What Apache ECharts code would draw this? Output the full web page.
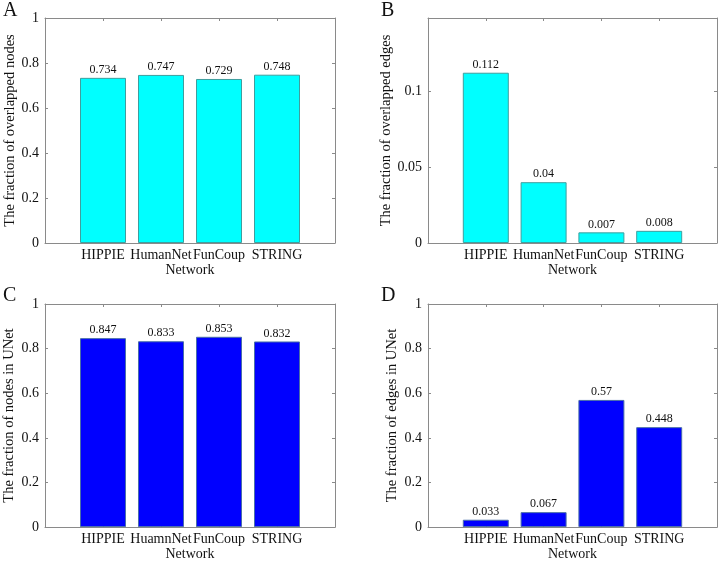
<!DOCTYPE html>
<html>
<head>
<meta charset="utf-8">
<script src="https://cdn.jsdelivr.net/npm/echarts@6/dist/echarts.min.js"></script>
<style>
  html, body { margin: 0; padding: 0; background: #fff; }
  #chart { width: 720px; height: 562px; }
</style>
</head>
<body>
<div id="chart"></div>
<script>
// 数据
const networks = ["HIPPIE", "HumanNet", "FunCoup", "STRING"];
const networksC = ["HIPPIE", "HuamnNet", "FunCoup", "STRING"]; // 原图C中的拼写
const overlappedNodes = [0.734, 0.747, 0.729, 0.748];
const overlappedEdges = [0.112, 0.04, 0.007, 0.008];
const nodesInUNet = [0.847, 0.833, 0.853, 0.832];
const edgesInUNet = [0.033, 0.067, 0.57, 0.448];
const yMaxes = [1, 0.148, 1, 1];
const yIntervals = [0.2, 0.05, 0.2, 0.2];

const FONT = "Liberation Serif";
const FRAME = "#8a8a8a";

const panels = [
  { letter: "A", cats: networks, values: overlappedNodes, color: "#00FFFF", border: "#3f9e9e",
    name: "The fraction of overlapped nodes", grid: { left: 45, top: 18 }, nameGap: 26 },
  { letter: "B", cats: networks, values: overlappedEdges, color: "#00FFFF", border: "#3f9e9e",
    name: "The fraction of overlapped edges", grid: { left: 428, top: 18 }, nameGap: 34 },
  { letter: "C", cats: networksC, values: nodesInUNet, color: "#0000FF", border: "#4a6ea8",
    name: "The fraction of nodes in UNet", grid: { left: 45, top: 304 }, nameGap: 28 },
  { letter: "D", cats: networks, values: edgesInUNet, color: "#0000FF", border: "#4a6ea8",
    name: "The fraction of edges in UNet", grid: { left: 428, top: 304 }, nameGap: 28 },
];

const grid = [], xAxis = [], yAxis = [], series = [], graphic = [];

panels.forEach((p, i) => {
  grid.push({ left: p.grid.left, top: p.grid.top, width: 290, height: 225 });

  // 下方x轴（带标签）和上方x轴（只画边框和刻度）
  xAxis.push({
    gridIndex: i, type: "value", min: 0, max: p.cats.length + 1, interval: 1,
    name: "Network", nameLocation: "middle", nameGap: 19,
    nameTextStyle: { fontFamily: FONT, fontSize: 14, color: "#111" },
    axisLine: { onZero: false, lineStyle: { color: FRAME } },
    axisTick: { inside: true, length: 3, lineStyle: { color: FRAME } },
    splitLine: { show: false },
    axisLabel: {
      fontFamily: FONT, fontSize: 14, color: "#111", margin: 5,
      formatter: (v) => p.cats[v - 1] || "",
    },
  });
  xAxis.push({
    gridIndex: i, type: "value", position: "top", min: 0, max: p.cats.length + 1, interval: 1,
    axisLine: { onZero: false, lineStyle: { color: FRAME } },
    axisTick: { inside: true, length: 3, lineStyle: { color: FRAME } },
    axisLabel: { show: false }, splitLine: { show: false },
  });

  yAxis.push({
    gridIndex: i, type: "value", min: 0, max: yMaxes[i], interval: yIntervals[i],
    name: p.name, nameLocation: "middle", nameGap: p.nameGap,
    nameTextStyle: { fontFamily: FONT, fontSize: 14.5, color: "#111" },
    axisLine: { show: true, onZero: false, lineStyle: { color: FRAME } },
    axisTick: { show: true, inside: true, length: 3, lineStyle: { color: FRAME } },
    splitLine: { show: false },
    axisLabel: { fontFamily: FONT, fontSize: 14, color: "#111", margin: 6, showMaxLabel: i !== 1 },
  });
  yAxis.push({
    gridIndex: i, type: "value", position: "right", min: 0, max: yMaxes[i], interval: yIntervals[i],
    axisLine: { show: true, onZero: false, lineStyle: { color: FRAME } },
    axisTick: { show: true, inside: true, length: 3, lineStyle: { color: FRAME } },
    axisLabel: { show: false }, splitLine: { show: false },
  });

  series.push({
    type: "bar",
    xAxisIndex: i * 2,
    yAxisIndex: i * 2,
    barWidth: 46,
    data: p.values.map((v, k) => [k + 1, v]),
    itemStyle: { color: p.color, borderColor: p.border, borderWidth: 1 },
    label: {
      show: true, position: "top", distance: 2,
      fontFamily: FONT, fontSize: 12, color: "#111",
      formatter: (d) => String(d.value[1]),
    },
  });

  // 子图字母
  graphic.push({
    type: "text",
    left: p.grid.left === 45 ? 3 : 381,
    top: p.grid.top === 18 ? 1 : 286,
    style: { text: p.letter, font: "20px " + FONT, fill: "#111" },
  });
});

const chart = echarts.init(document.getElementById("chart"));
chart.setOption({
  backgroundColor: "#fff",
  animation: false,
  grid, xAxis, yAxis, series, graphic,
});
</script>
</body>
</html>
